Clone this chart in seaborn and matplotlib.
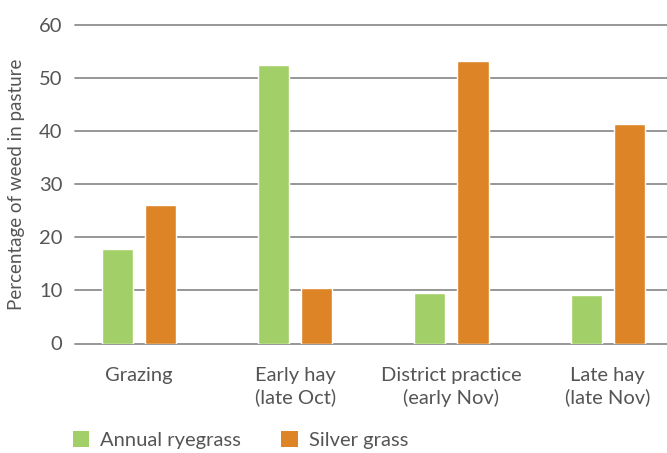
import matplotlib
matplotlib.use("Agg")
import matplotlib.pyplot as plt
import pandas as pd
import seaborn as sns
from matplotlib.patches import Patch

categories = ["Grazing", "Early hay\n(late Oct)", "District practice\n(early Nov)", "Late hay\n(late Nov)"]
ryegrass = [17.8, 52.4, 9.5, 9.1]
silver = [26.0, 10.4, 53.1, 41.3]
series = ["Annual ryegrass", "Silver grass"]
colors = ["#A2CF67", "#DD8526"]

df = pd.DataFrame({
    "category": categories * 2,
    "series": [series[0]] * 4 + [series[1]] * 4,
    "value": ryegrass + silver,
})

sns.set_style("white")
plt.rcParams["font.family"] = ["Lato", "DejaVu Sans"]
text_color = "#555555"

fig = plt.figure(figsize=(6.67, 4.53), dpi=100)
ax = fig.add_axes([75 / 667, 1 - 343.5 / 453, 1 - 75 / 667, (343.5 - 24.5) / 453])

sns.barplot(data=df, x="category", y="value", hue="series", palette=colors,
            width=0.552, gap=0.28, ax=ax, legend=False, saturation=1)

ax.set_ylim(0, 60)
ax.set_xlim(-0.41, 3.38)
ax.set_yticks(range(0, 61, 10))
ax.yaxis.grid(True, color="#8f8f8f", linewidth=1.3, clip_on=False)
ax.set_axisbelow(True)
for s in ax.spines.values():
    s.set_visible(False)

ax.tick_params(axis="y", length=0, pad=9, labelsize=14.5, labelcolor=text_color)
ax.tick_params(axis="x", length=0, pad=17, labelsize=14.5, labelcolor=text_color)
for lbl in ax.get_xticklabels():
    lbl.set_linespacing(1.3)
ax.set_xlabel("")
ax.set_ylabel("Percentage of weed in pasture", fontsize=13.5, color=text_color, labelpad=10)

handles = [Patch(facecolor=c, edgecolor="none", label=l) for c, l in zip(colors, series)]
fig.legend(handles=handles, loc="center left", bbox_to_anchor=(55 / 667, 1 - 440 / 453),
           ncol=2, frameon=False, fontsize=14.5, labelcolor=text_color,
           handlelength=0.8, handleheight=0.8, handletextpad=0.55, columnspacing=2.0)

fig.savefig("out.png", dpi=100)
